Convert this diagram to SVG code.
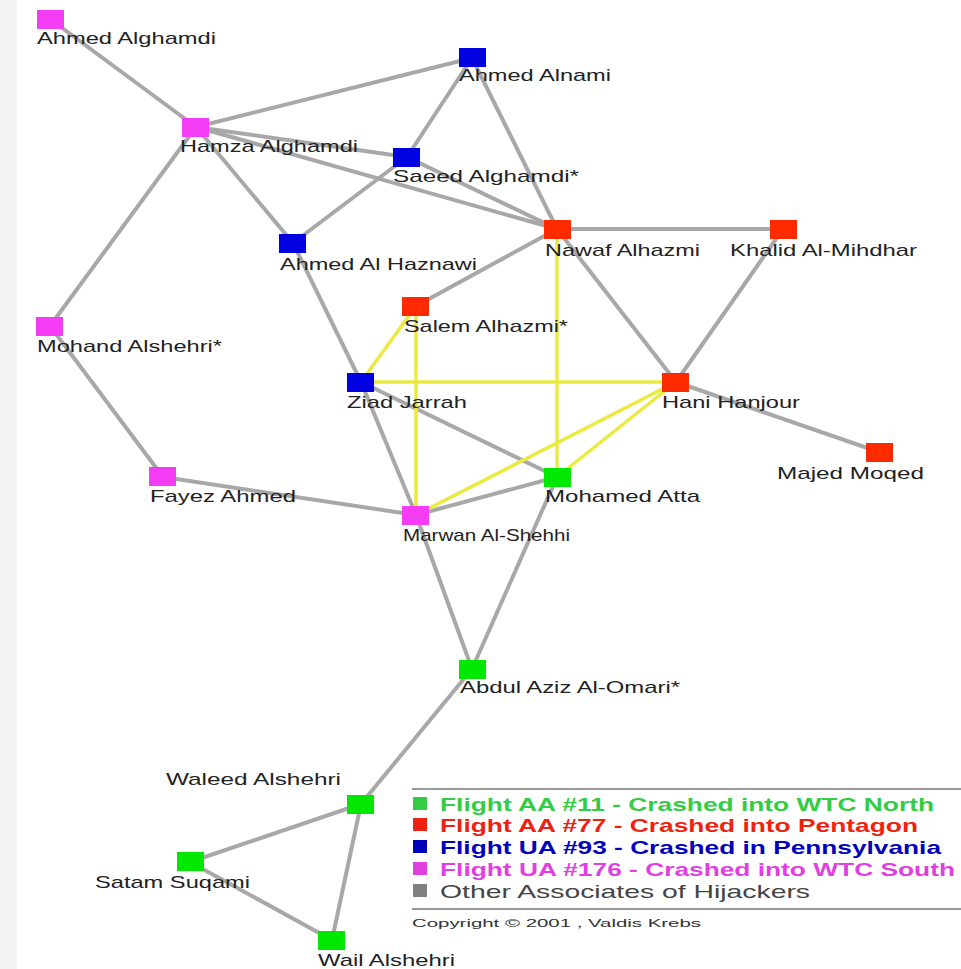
<svg xmlns="http://www.w3.org/2000/svg" width="961" height="969" viewBox="0 0 961 969">
<style>
.e{stroke:#a8a8a8;stroke-width:4;fill:none}
.y{stroke:#eaea40;stroke-width:3.5;fill:none}
.n rect{width:27px;height:19px}
.m{fill:#f43cf4}.b{fill:#0000e0}.r{fill:#ff2a00}.g{fill:#00e800}
.l{font-family:"Liberation Sans",Arial,sans-serif;font-size:17px;fill:#222}
.lg{font-family:"Liberation Sans",Arial,sans-serif;font-size:19px;font-weight:bold}
</style>
<rect x="0" y="0" width="961" height="969" fill="#ffffff"/>
<rect x="0" y="0" width="17" height="969" fill="#f3f3f3"/>
<g id="connectors">
<line class="e" x1="50" y1="19" x2="196" y2="127"/>
<line class="e" x1="196" y1="127" x2="472" y2="58"/>
<line class="e" x1="196" y1="127" x2="407" y2="157"/>
<line class="e" x1="196" y1="127" x2="557" y2="229"/>
<line class="e" x1="196" y1="127" x2="293" y2="243"/>
<line class="e" x1="196" y1="127" x2="50" y2="326"/>
<line class="e" x1="472" y1="58" x2="407" y2="157"/>
<line class="e" x1="472" y1="58" x2="557" y2="229"/>
<line class="e" x1="407" y1="157" x2="293" y2="243"/>
<line class="e" x1="407" y1="157" x2="557" y2="229"/>
<line class="e" x1="293" y1="243" x2="361" y2="382"/>
<line class="e" x1="557" y1="229" x2="783" y2="229"/>
<line class="e" x1="557" y1="229" x2="676" y2="382"/>
<line class="e" x1="557" y1="229" x2="416" y2="306"/>
<line class="e" x1="783" y1="229" x2="676" y2="382"/>
<line class="e" x1="676" y1="382" x2="879" y2="452"/>
<line class="e" x1="50" y1="326" x2="163" y2="477"/>
<line class="e" x1="163" y1="477" x2="416" y2="515"/>
<line class="e" x1="361" y1="382" x2="416" y2="515"/>
<line class="e" x1="361" y1="382" x2="557" y2="477"/>
<line class="e" x1="416" y1="515" x2="557" y2="477"/>
<line class="e" x1="416" y1="515" x2="472" y2="669"/>
<line class="e" x1="557" y1="477" x2="472" y2="669"/>
<line class="e" x1="472" y1="669" x2="361" y2="804"/>
<line class="e" x1="361" y1="804" x2="190" y2="862"/>
<line class="e" x1="361" y1="804" x2="332" y2="940"/>
<line class="e" x1="190" y1="862" x2="332" y2="940"/>
<line class="y" x1="361" y1="382" x2="416" y2="306"/>
<line class="y" x1="361" y1="382" x2="676" y2="382"/>
<line class="y" x1="416" y1="306" x2="416" y2="515"/>
<line class="y" x1="557" y1="229" x2="557" y2="477"/>
<line class="y" x1="676" y1="382" x2="416" y2="515"/>
<line class="y" x1="676" y1="382" x2="557" y2="477"/>
</g>
<g id="n-ahmed-alghamdi" class="n"><rect class="m" x="37" y="10"/><text class="l" x="37" y="44" textLength="179" lengthAdjust="spacingAndGlyphs">Ahmed Alghamdi</text></g>
<g id="n-hamza-alghamdi" class="n"><rect class="m" x="182" y="118"/><text class="l" x="180" y="152" textLength="178" lengthAdjust="spacingAndGlyphs">Hamza Alghamdi</text></g>
<g id="n-ahmed-alnami" class="n"><rect class="b" x="459" y="48"/><text class="l" x="459" y="81" textLength="152" lengthAdjust="spacingAndGlyphs">Ahmed Alnami</text></g>
<g id="n-saeed-alghamdi" class="n"><rect class="b" x="393" y="148"/><text class="l" x="393" y="182" textLength="186" lengthAdjust="spacingAndGlyphs">Saeed Alghamdi*</text></g>
<g id="n-nawaf-alhazmi" class="n"><rect class="r" x="544" y="220"/><text class="l" x="545" y="256" textLength="155" lengthAdjust="spacingAndGlyphs">Nawaf Alhazmi</text></g>
<g id="n-khalid-al-mihdhar" class="n"><rect class="r" x="770" y="220"/><text class="l" x="730" y="256" textLength="187" lengthAdjust="spacingAndGlyphs">Khalid Al-Mihdhar</text></g>
<g id="n-ahmed-al-haznawi" class="n"><rect class="b" x="279" y="234"/><text class="l" x="280" y="270" textLength="197" lengthAdjust="spacingAndGlyphs">Ahmed Al Haznawi</text></g>
<g id="n-salem-alhazmi" class="n"><rect class="r" x="402" y="297"/><text class="l" x="404" y="332" textLength="164" lengthAdjust="spacingAndGlyphs">Salem Alhazmi*</text></g>
<g id="n-mohand-alshehri" class="n"><rect class="m" x="36" y="317"/><text class="l" x="37" y="352" textLength="185" lengthAdjust="spacingAndGlyphs">Mohand Alshehri*</text></g>
<g id="n-ziad-jarrah" class="n"><rect class="b" x="347" y="373"/><text class="l" x="347" y="408" textLength="120" lengthAdjust="spacingAndGlyphs">Ziad Jarrah</text></g>
<g id="n-hani-hanjour" class="n"><rect class="r" x="662" y="373"/><text class="l" x="662" y="408" textLength="138" lengthAdjust="spacingAndGlyphs">Hani Hanjour</text></g>
<g id="n-majed-moqed" class="n"><rect class="r" x="866" y="443"/><text class="l" x="777" y="479" textLength="147" lengthAdjust="spacingAndGlyphs">Majed Moqed</text></g>
<g id="n-mohamed-atta" class="n"><rect class="g" x="544" y="468"/><text class="l" x="545" y="502" textLength="155" lengthAdjust="spacingAndGlyphs">Mohamed Atta</text></g>
<g id="n-fayez-ahmed" class="n"><rect class="m" x="149" y="467"/><text class="l" x="150" y="502" textLength="146" lengthAdjust="spacingAndGlyphs">Fayez Ahmed</text></g>
<g id="n-marwan-al-shehhi" class="n"><rect class="m" x="402" y="506"/><text class="l" x="403" y="541" textLength="167" lengthAdjust="spacingAndGlyphs">Marwan Al-Shehhi</text></g>
<g id="n-abdul-aziz-al-omari" class="n"><rect class="g" x="459" y="660"/><text class="l" x="460" y="693" textLength="220" lengthAdjust="spacingAndGlyphs">Abdul Aziz Al-Omari*</text></g>
<g id="n-waleed-alshehri" class="n"><rect class="g" x="347" y="795"/><text class="l" x="166" y="785" textLength="175" lengthAdjust="spacingAndGlyphs">Waleed Alshehri</text></g>
<g id="n-salam-suqami" class="n"><rect class="g" x="177" y="852"/><text class="l" x="95" y="888" textLength="155" lengthAdjust="spacingAndGlyphs">Satam Suqami</text></g>
<g id="n-wail-alshehri" class="n"><rect class="g" x="318" y="931"/><text class="l" x="318" y="966" textLength="137" lengthAdjust="spacingAndGlyphs">Wail Alshehri</text></g>
<g id="legend">
<line x1="412" y1="789" x2="961" y2="789" stroke="#999" stroke-width="2"/>
<line x1="412" y1="909" x2="961" y2="909" stroke="#999" stroke-width="2"/>
<rect x="413" y="797" width="14" height="13" fill="#33cc44"/>
<text class="lg" x="440" y="811" fill="#33cc44" textLength="494" lengthAdjust="spacingAndGlyphs">Flight AA #11 - Crashed into WTC North</text>
<rect x="413" y="818" width="14" height="13" fill="#ee2211"/>
<text class="lg" x="440" y="832" fill="#ee2211" textLength="478" lengthAdjust="spacingAndGlyphs">Flight AA #77 - Crashed into Pentagon</text>
<rect x="413" y="840" width="14" height="13" fill="#0000bb"/>
<text class="lg" x="440" y="854" fill="#0000bb" textLength="501" lengthAdjust="spacingAndGlyphs">Flight UA #93 - Crashed in Pennsylvania</text>
<rect x="413" y="862" width="14" height="13" fill="#e040e0"/>
<text class="lg" x="440" y="876" fill="#e040e0" textLength="515" lengthAdjust="spacingAndGlyphs">Flight UA #176 - Crashed into WTC South</text>
<rect x="413" y="884" width="14" height="13" fill="#808080"/>
<text x="440" y="898" fill="#444" font-family="Liberation Sans, Arial, sans-serif" font-size="19" textLength="370" lengthAdjust="spacingAndGlyphs">Other Associates of Hijackers</text>
<text x="412" y="927" fill="#333" font-family="Liberation Sans, Arial, sans-serif" font-size="11" textLength="289" lengthAdjust="spacingAndGlyphs">Copyright © 2001 , Valdis Krebs</text>
</g>
</svg>
